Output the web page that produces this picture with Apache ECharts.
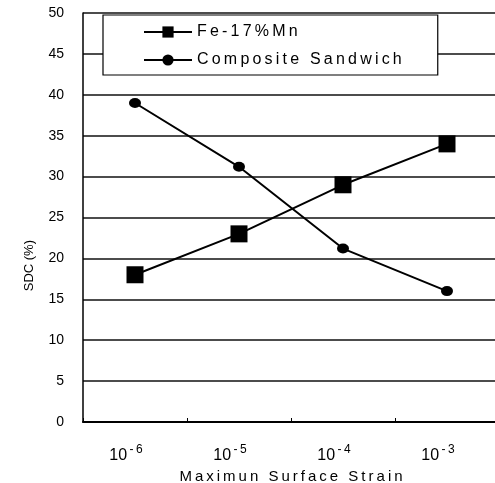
<!DOCTYPE html>
<html><head><meta charset="utf-8">
<script src="https://cdn.jsdelivr.net/npm/echarts@6/dist/echarts.min.js"></script>
<style>html,body{margin:0;padding:0;background:#fff}#c{width:495px;height:483px}</style>
</head><body><div id="c"></div>
<script>
const categories = ['1e-6', '1e-5', '1e-4', '1e-3'];
const exponents = ['-6', '-5', '-4', '-3'];
const feMn = [18, 23, 29, 34];
const sandwich = [39, 31.2, 21.2, 16];
const yTicks = [0, 5, 10, 15, 20, 25, 30, 35, 40, 45, 50];
const seriesNames = ['Fe-17%Mn', 'Composite Sandwich'];
const xTitle = 'Maximun Surface Strain';
const yTitle = 'SDC (%)';

const spaced = s => s.split('').join('\u2009');
const FONT = 'Liberation Sans';
const chart = echarts.init(document.getElementById('c'), null, {renderer: 'canvas'});
chart.setOption({
  animation: false,
  backgroundColor: '#fff',
  textStyle: {fontFamily: FONT, color: '#000'},
  grid: {left: 83, top: 13, width: 416, height: 409, containLabel: false, outerBoundsMode: 'none'},
  legend: {
    left: 103, top: 15, orient: 'vertical',
    data: seriesNames,
    backgroundColor: '#fff',
    borderColor: '#000', borderWidth: 1.2,
    padding: [9, 36, 7, 40],
    itemGap: 12, itemWidth: 48, itemHeight: 14,
    formatter: n => spaced(n),
    textStyle: {fontFamily: FONT, fontSize: 16, color: '#000'}
  },
  xAxis: {
    type: 'category', data: categories, boundaryGap: true,
    name: spaced(xTitle), nameLocation: 'middle', nameGap: 44,
    nameTextStyle: {fontFamily: FONT, fontSize: 15, color: '#000'},
    axisLine: {lineStyle: {color: '#000', width: 2}},
    axisTick: {show: true, inside: true, length: 4, interval: 0, lineStyle: {color: '#000'}},
    axisLabel: {
      margin: 22, fontSize: 16, interval: 0, hideOverlap: false,
      padding: [0, 18, 0, 0],
      formatter: (v, i) => '{a|10}{b|\u2009' + exponents[i].split('').join('\u2009') + '}',
      rich: {
        a: {fontFamily: FONT, fontSize: 16, color: '#000', verticalAlign: 'bottom', lineHeight: 20},
        b: {fontFamily: FONT, fontSize: 12, color: '#000', verticalAlign: 'top', lineHeight: 20}
      }
    },
    splitLine: {show: false}
  },
  yAxis: {
    type: 'value', min: 0, max: 50, interval: 5,
    axisLine: {show: true, lineStyle: {color: '#000', width: 1.5}},
    axisTick: {show: false},
    axisLabel: {margin: 19, fontFamily: FONT, fontSize: 14, color: '#000',
      formatter: v => yTicks.includes(v) ? String(v) : ''},
    splitLine: {show: true, lineStyle: {color: '#111', width: 1.5}}
  },
  graphic: [{
    type: 'text', left: 23, top: 240, rotation: Math.PI / 2,
    style: {text: yTitle, fontFamily: FONT, fontSize: 13, fill: '#000'}
  }],
  series: [
    {name: seriesNames[0], type: 'line', data: feMn, symbol: 'rect', symbolSize: 17,
      lineStyle: {color: '#000', width: 2}, itemStyle: {color: '#000'}},
    {name: seriesNames[1], type: 'line', data: sandwich, symbol: 'circle', symbolSize: [12, 10],
      lineStyle: {color: '#000', width: 2}, itemStyle: {color: '#000'}}
  ]
});
</script></body></html>
